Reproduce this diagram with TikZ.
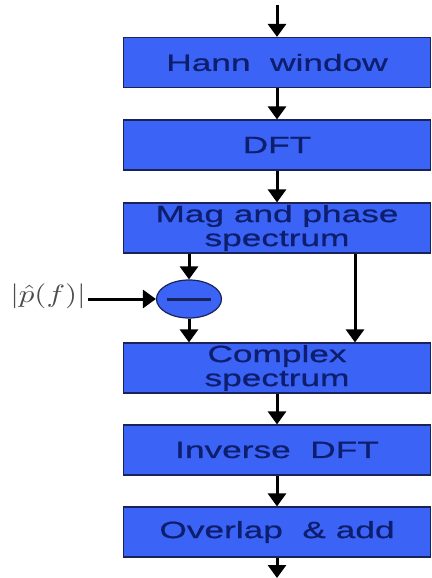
\documentclass[tikz,border=0pt]{standalone}
\usepackage{fontspec}
\newfontfamily\boxfont[FakeStretch=1.5,FakeBold=0.8]{Liberation Sans}
\usetikzlibrary{shapes.geometric,arrows.meta}
\definecolor{boxblue}{RGB}{59,99,245}
\definecolor{boxtext}{RGB}{14,30,110}
\definecolor{boxedge}{RGB}{25,35,90}
\begin{document}
\begin{tikzpicture}[x=1pt,y=-1pt,
  stage/.style={draw=boxedge, line width=1.2pt, fill=boxblue,
    minimum width=307pt, minimum height=50pt, inner sep=0pt,
    text=boxtext, font=\boxfont\fontsize{23.5}{24}\selectfont, align=center},
  arr/.style={line width=3pt, -{Triangle[width=18pt,length=13pt]}}]
\useasboundingbox (0,0) rectangle (431,578);
\node[stage] (hann) at (277,62.5) {Hann\ \ window};
\node[stage] (dft)  at (277,145) {DFT};
\node[stage] (mag)  at (277,228) {Mag and phase\\spectrum};
\node[stage] (cplx) at (277,368) {Complex\\spectrum};
\node[stage] (idft) at (277,450) {Inverse\ \ DFT};
\node[stage] (ovl)  at (277,532) {Overlap\ \ \& add};
\node[ellipse, draw=boxedge, line width=1.2pt, fill=boxblue,
  minimum width=65pt, minimum height=38pt, inner sep=0pt] (circ) at (189,299) {};
\draw[line width=3pt, boxedge] ([xshift=-22pt]circ.center) -- ([xshift=22pt]circ.center);
\node[inner sep=2pt, text=black!70] (lbl) at (48,296) {\scalebox{3.1}[2.5]{$|\hat{p}(f)|$}};
\coordinate (in) at (277,5);
\coordinate (out) at (277,578);
\coordinate (rx) at (355,0);
\draw[arr] (in) -- (hann.north);
\draw[arr] (hann) -- (dft);
\draw[arr] (dft) -- (mag);
\draw[arr] (mag.south -| circ.north) -- (circ.north);
\draw[arr] (circ.south) -- (cplx.north -| circ.south);
\draw[arr] (mag.south -| rx) -- (cplx.north -| rx);
\draw[arr] (lbl.east |- circ.west) -- (circ.west);
\draw[arr] (cplx) -- (idft);
\draw[arr] (idft) -- (ovl);
\draw[arr] (ovl.south) -- (out);
\end{tikzpicture}
\end{document}
